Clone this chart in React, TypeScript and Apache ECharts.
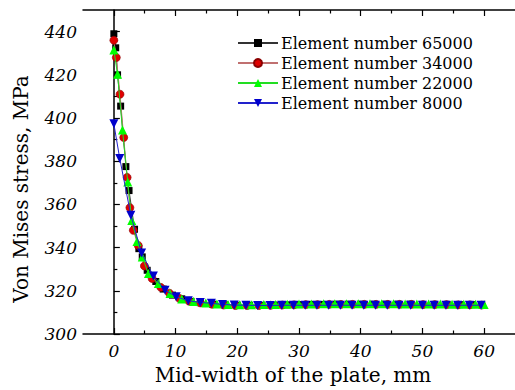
import React, { useEffect, useRef } from "react";
import * as echarts from "echarts";

const seriesNames = ["Element number 65000", "Element number 34000", "Element number 22000", "Element number 8000"];

const x65000 = [0, 0.3, 0.6, 1.1, 1.95, 2.46, 3.35, 4.05, 4.6, 5.4, 6.8, 8.0, 9.5, 11, 12.5, 14, 16, 18, 20, 22, 24, 26, 28, 30, 32, 34, 36, 38, 40, 42, 44, 46, 48, 50, 52, 54, 56, 58, 59.6];
const y65000 = [439, 432.5, 420, 405.5, 377.5, 366.4, 348.5, 339.5, 335.7, 329.5, 324.3, 320.8, 318, 316.3, 315.1, 314.5, 313.8, 313.5, 313.3, 313.3, 313.3, 313.4, 313.5, 313.6, 313.7, 313.7, 313.8, 313.8, 313.8, 313.8, 313.8, 313.8, 313.8, 313.7, 313.7, 313.7, 313.6, 313.6, 313.5];

const x34000 = [0, 0.4, 1.0, 1.6, 2.15, 2.6, 3.15, 3.95, 4.95, 6.2, 7.6, 9.0, 10.6, 12.2, 14, 15.9, 17.8, 19.7, 21.6, 23.5, 25.4, 27.3, 29.2, 31.1, 33, 34.9, 36.8, 38.7, 40.6, 42.5, 44.4, 46.3, 48.2, 50.1, 52, 53.9, 55.8, 57.7, 59.6];
const y34000 = [436, 428, 411, 391, 372.5, 358.5, 348, 341, 331.5, 325.7, 321.6, 318.9, 316.5, 315.2, 314.4, 313.8, 313.4, 313.2, 313.2, 313.2, 313.3, 313.4, 313.5, 313.6, 313.6, 313.7, 313.7, 313.7, 313.7, 313.7, 313.7, 313.7, 313.7, 313.6, 313.6, 313.6, 313.5, 313.5, 313.4];

const x22000 = [0, 0.6, 1.4, 2.25, 2.9, 3.75, 4.6, 5.6, 7.2, 9.1, 11, 12.9, 14.9, 16.7, 18.5, 20.4, 22.3, 24.3, 26.2, 28.1, 30, 32, 34, 35.8, 37.7, 39.6, 41.5, 43.4, 45.3, 47.2, 49.1, 51, 52.9, 54.8, 56.7, 58.6, 60];
const y22000 = [431.5, 420.2, 394.5, 370.4, 352.6, 342.8, 335.7, 328, 323.4, 318.8, 316.2, 315, 314.3, 313.9, 313.6, 313.5, 313.5, 313.6, 313.7, 313.8, 313.9, 313.9, 314, 314, 314, 314, 314, 314, 314, 313.9, 313.9, 313.9, 313.9, 313.8, 313.8, 313.8, 313.7];

const x8000 = [0, 0.95, 2.75, 4.5, 6.4, 8.3, 10.1, 12.05, 14, 15.8, 17.6, 19.5, 21.4, 23.3, 25.3, 27.2, 29.1, 31, 32.9, 34.8, 36.7, 38.6, 40.5, 42.4, 44.3, 46.2, 48.1, 50, 51.9, 53.8, 55.7, 57.6, 59.5];
const y8000 = [397.3, 381.3, 355, 337.5, 326.9, 320.3, 317.2, 315.4, 314.6, 314.2, 313.7, 313.4, 313.3, 313.2, 313.2, 313.3, 313.3, 313.3, 313.3, 313.3, 313.3, 313.3, 313.3, 313.3, 313.3, 313.3, 313.3, 313.3, 313.3, 313.3, 313.3, 313.3, 313.3];

const xMajorTicks = [0, 10, 20, 30, 40, 50, 60];
const xMinorTicks = [5, 15, 25, 35, 45, 55];
const yMajorTicks = [300, 320, 340, 360, 380, 400, 420, 440];
const yMinorTicks = [310, 330, 350, 370, 390, 410, 430];

const pairs = (xs: number[], ys: number[]) => xs.map((x, i) => [x, ys[i]]);

const serif = "DejaVu Serif";

export default function App() {
  const ref = useRef<HTMLDivElement>(null);
  useEffect(() => {
    if (!ref.current) return;
    const chart = echarts.init(ref.current, null, { renderer: "svg" });
    const gridDef = { left: 83, top: 10, width: 440, height: 325.7 };
    const baseX = {
      type: "value",
      min: -5,
      max: 65,
      gridIndex: 0,
      splitLine: { show: false },
      axisLine: { show: true, lineStyle: { color: "#000", width: 1.5 } },
      axisLabel: { show: false },
    };
    const baseY = {
      type: "value",
      min: 300,
      max: 450,
      gridIndex: 0,
      splitLine: { show: false },
      axisLine: { show: true, lineStyle: { color: "#000", width: 1.5 } },
      axisLabel: { show: false },
    };
    const tickStyle = { color: "#000", width: 1.2 };
    const invTri = "path://M0,0 L10,0 L5,9 Z";
    const option: any = {
      animation: false,
      backgroundColor: "#fff",
      textStyle: { fontFamily: serif },
      grid: gridDef,
      legend: {
        left: 237,
        top: 35,
        padding: 0,
        orient: "vertical",
        itemWidth: 40,
        itemHeight: 10,
        itemGap: 4,
        textStyle: { fontFamily: serif, fontSize: 16, color: "#000", lineHeight: 16, padding: [0, 0, 0, -2] },
        data: seriesNames,
      },
      xAxis: [
        {
          ...baseX,
          position: "bottom",
          name: "Mid-width of the plate, mm",
          nameLocation: "middle",
          nameGap: 31,
          nameTextStyle: { fontFamily: serif, fontSize: 20, color: "#000", padding: [0, 12, 0, 0] },
          axisTick: { show: true, inside: true, length: 6, customValues: xMajorTicks, lineStyle: tickStyle },
        },
        {
          ...baseX,
          position: "bottom",
          axisLine: { show: false },
          axisTick: { show: true, inside: true, length: 3.5, customValues: xMinorTicks, lineStyle: tickStyle },
        },
        {
          ...baseX,
          position: "top",
          axisTick: { show: true, inside: true, length: 6, customValues: xMajorTicks, lineStyle: tickStyle },
        },
        {
          ...baseX,
          position: "top",
          axisLine: { show: false },
          axisTick: { show: true, inside: true, length: 3.5, customValues: xMinorTicks, lineStyle: tickStyle },
        },
      ],
      yAxis: [
        {
          ...baseY,
          position: "left",
          name: "Von Mises stress, MPa",
          nameLocation: "middle",
          nameGap: 52,
          nameRotate: 90,
          nameTextStyle: { fontFamily: serif, fontSize: 20, color: "#000", padding: [0, 34, 0, 0] },
          axisTick: { show: true, inside: true, length: 6, customValues: yMajorTicks, lineStyle: tickStyle },
        },
        {
          ...baseY,
          position: "left",
          axisLine: { show: false },
          axisTick: { show: true, inside: true, length: 3.5, customValues: yMinorTicks, lineStyle: tickStyle },
        },
      ],
      series: [
        {
          name: seriesNames[0],
          type: "line",
          data: pairs(x65000, y65000),
          symbol: "rect",
          symbolSize: 7,
          itemStyle: { color: "#000" },
          lineStyle: { color: "#333", width: 1 },
          z: 2,
        },
        {
          name: seriesNames[1],
          type: "line",
          data: pairs(x34000, y34000),
          symbol: "circle",
          symbolSize: 8,
          itemStyle: { color: "#e00000", borderColor: "#8b0000", borderWidth: 0.6 },
          lineStyle: { color: "#c07070", width: 1 },
          z: 3,
        },
        {
          name: seriesNames[2],
          type: "line",
          data: pairs(x22000, y22000),
          symbol: "triangle",
          symbolSize: 9,
          itemStyle: { color: "#00ff00" },
          lineStyle: { color: "#22dd22", width: 1 },
          z: 4,
        },
        {
          name: seriesNames[3],
          type: "line",
          data: pairs(x8000, y8000),
          symbol: invTri,
          symbolSize: 9,
          itemStyle: { color: "#0000cc" },
          lineStyle: { color: "#2222cc", width: 1 },
          z: 5,
        },
      ],
    };
    chart.setOption(option);

    // Tick labels drawn as italic serif text, positioned through the axes' own scales
    const xAxisY = chart.convertToPixel({ yAxisIndex: 0 }, 300) as number;
    const yAxisX = chart.convertToPixel({ xAxisIndex: 0 }, -5) as number;
    const labelFont = { fontFamily: serif, fontStyle: "italic", fontSize: 17, fill: "#000" };
    const labels: any[] = [];
    xMajorTicks.forEach((v) => {
      const px = chart.convertToPixel({ xAxisIndex: 0 }, v) as number;
      labels.push({
        type: "text",
        x: px,
        y: xAxisY + 8,
        silent: true,
        style: { ...labelFont, text: String(v), align: "center", verticalAlign: "top", textAlign: "center", textVerticalAlign: "top" },
      });
    });
    yMajorTicks.forEach((v) => {
      const py = chart.convertToPixel({ yAxisIndex: 0 }, v) as number;
      labels.push({
        type: "text",
        x: yAxisX - 6,
        y: py,
        silent: true,
        style: { ...labelFont, text: String(v), align: "right", verticalAlign: "middle", textAlign: "right", textVerticalAlign: "middle" },
      });
    });
    chart.setOption({ graphic: labels });
    return () => chart.dispose();
  }, []);
  return (
    <div
      ref={ref}
      style={{ position: "fixed", left: 0, top: 0, width: 515, height: 390, overflow: "hidden", background: "#fff" }}
    />
  );
}
